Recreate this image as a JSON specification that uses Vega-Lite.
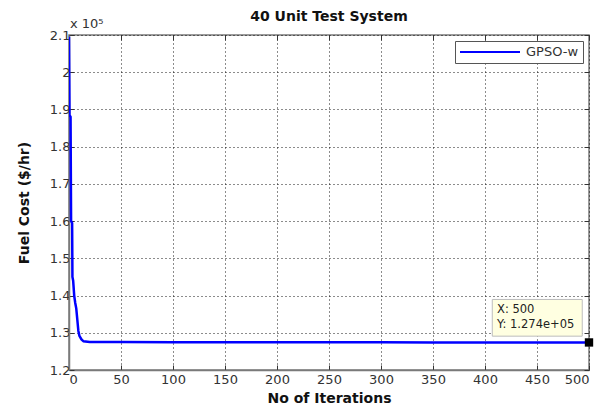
{
  "$schema": "https://vega.github.io/schema/vega-lite/v6.json",
  "width": 520,
  "height": 335,
  "autosize": {"type": "none"},
  "padding": {"left": 69, "top": 35, "right": 22, "bottom": 39},
  "background": "white",
  "title": {"text": "40 Unit Test System", "font": "DejaVu Sans", "fontSize": 14, "fontWeight": "bold", "color": "#111", "offset": -6, "anchor": "middle"},
  "config": {
    "view": {"stroke": "#7a7a7a", "strokeWidth": 1.5},
    "axis": {"labelFont": "DejaVu Sans", "labelFontSize": 13, "labelColor": "#333", "titleFont": "DejaVu Sans", "titleFontSize": 14, "titleFontWeight": "bold", "titleColor": "#111", "domainColor": "#7a7a7a", "domainWidth": 1.5, "tickColor": "#333", "tickSize": -5, "gridColor": "#000", "gridDash": [1, 3], "gridOpacity": 0.9},
    "legend": {"orient": "top-right", "offset": 6, "strokeColor": "#555", "fillColor": "white", "padding": 4, "labelFont": "DejaVu Sans", "labelFontSize": 13, "labelColor": "#333", "labelOffset": 5, "symbolType": "stroke", "symbolSize": 3600, "symbolStrokeWidth": 2, "clipHeight": 14}
  },
  "datasets": {
    "main": [
      {"iter": 0, "cost": 209500, "series": "GPSO-w"},
      {"iter": 0.5, "cost": 188500, "series": "GPSO-w"},
      {"iter": 1.5, "cost": 188000, "series": "GPSO-w"},
      {"iter": 2, "cost": 160000, "series": "GPSO-w"},
      {"iter": 3, "cost": 159500, "series": "GPSO-w"},
      {"iter": 3.3, "cost": 145000, "series": "GPSO-w"},
      {"iter": 4, "cost": 144000, "series": "GPSO-w"},
      {"iter": 5, "cost": 140000, "series": "GPSO-w"},
      {"iter": 6, "cost": 138000, "series": "GPSO-w"},
      {"iter": 7, "cost": 136500, "series": "GPSO-w"},
      {"iter": 8, "cost": 133500, "series": "GPSO-w"},
      {"iter": 9, "cost": 130500, "series": "GPSO-w"},
      {"iter": 10, "cost": 129200, "series": "GPSO-w"},
      {"iter": 12, "cost": 128200, "series": "GPSO-w"},
      {"iter": 14, "cost": 127700, "series": "GPSO-w"},
      {"iter": 20, "cost": 127550, "series": "GPSO-w"},
      {"iter": 50, "cost": 127500, "series": "GPSO-w"},
      {"iter": 100, "cost": 127480, "series": "GPSO-w"},
      {"iter": 150, "cost": 127460, "series": "GPSO-w"},
      {"iter": 200, "cost": 127450, "series": "GPSO-w"},
      {"iter": 250, "cost": 127440, "series": "GPSO-w"},
      {"iter": 300, "cost": 127430, "series": "GPSO-w"},
      {"iter": 350, "cost": 127420, "series": "GPSO-w"},
      {"iter": 400, "cost": 127410, "series": "GPSO-w"},
      {"iter": 450, "cost": 127405, "series": "GPSO-w"},
      {"iter": 500, "cost": 127400, "series": "GPSO-w"}
    ],
    "one": [{"label": "tip"}]
  },
  "resolve": {"axis": {"x": "independent", "y": "independent"}},
  "layer": [
    {
      "data": {"name": "main"},
      "mark": {"type": "line", "strokeWidth": 2.5, "clip": true},
      "encoding": {
        "x": {"field": "iter", "type": "quantitative", "scale": {"domain": [0, 500], "nice": false}, "axis": {"title": "No of Iterations", "values": [0, 50, 100, 150, 200, 250, 300, 350, 400, 450, 500], "grid": true, "labelPadding": 8, "titlePadding": 5}},
        "y": {"field": "cost", "type": "quantitative", "scale": {"domain": [120000, 210000], "nice": false, "zero": false}, "axis": {"title": "Fuel Cost ($/hr)", "values": [120000, 130000, 140000, 150000, 160000, 170000, 180000, 190000, 200000, 210000], "labelExpr": "format(datum.value / 100000, '~g')", "grid": true, "labelPadding": 4, "titlePadding": 18}},
        "color": {"field": "series", "type": "nominal", "scale": {"range": ["#0000ff"]}, "legend": {"title": null}}
      }
    },
    {
      "data": {"name": "one"},
      "mark": {"type": "rect", "fill": "#ffffe1", "stroke": "#bdbdbd", "strokeWidth": 1},
      "encoding": {
        "x": {"datum": 407, "type": "quantitative", "axis": null},
        "x2": {"datum": 493.5},
        "y": {"datum": 138950, "type": "quantitative", "axis": null},
        "y2": {"datum": 129090}
      }
    },
    {
      "data": {"name": "one"},
      "mark": {"type": "point", "shape": "square", "filled": true, "color": "#000", "size": 70, "opacity": 1},
      "encoding": {
        "x": {"datum": 500, "type": "quantitative", "axis": {"orient": "top", "labels": false, "title": null, "grid": false, "domain": false, "values": [0, 50, 100, 150, 200, 250, 300, 350, 400, 450, 500]}},
        "y": {"datum": 127400, "type": "quantitative", "axis": {"orient": "right", "labels": false, "title": null, "grid": false, "domain": false, "values": [120000, 130000, 140000, 150000, 160000, 170000, 180000, 190000, 200000, 210000]}}
      }
    },
    {
      "data": {"name": "one"},
      "mark": {"type": "text", "font": "DejaVu Sans", "fontSize": 11.5, "color": "#222", "align": "left", "baseline": "middle", "dx": -92, "dy": -32},
      "encoding": {
        "x": {"datum": 500, "type": "quantitative", "axis": null},
        "y": {"datum": 127400, "type": "quantitative", "axis": null},
        "text": {"value": "X: 500"}
      }
    },
    {
      "data": {"name": "one"},
      "mark": {"type": "text", "font": "DejaVu Sans", "fontSize": 11.5, "color": "#222", "align": "left", "baseline": "middle", "dx": -92, "dy": -17},
      "encoding": {
        "x": {"datum": 500, "type": "quantitative", "axis": null},
        "y": {"datum": 127400, "type": "quantitative", "axis": null},
        "text": {"value": "Y: 1.274e+05"}
      }
    },
    {
      "data": {"name": "one"},
      "mark": {"type": "text", "font": "DejaVu Sans", "fontSize": 13, "color": "#333", "align": "left", "baseline": "bottom", "dx": 1, "dy": -4},
      "encoding": {
        "x": {"datum": 0, "type": "quantitative", "axis": null},
        "y": {"datum": 210000, "type": "quantitative", "axis": null},
        "text": {"value": "x 10⁵"}
      }
    }
  ]
}
